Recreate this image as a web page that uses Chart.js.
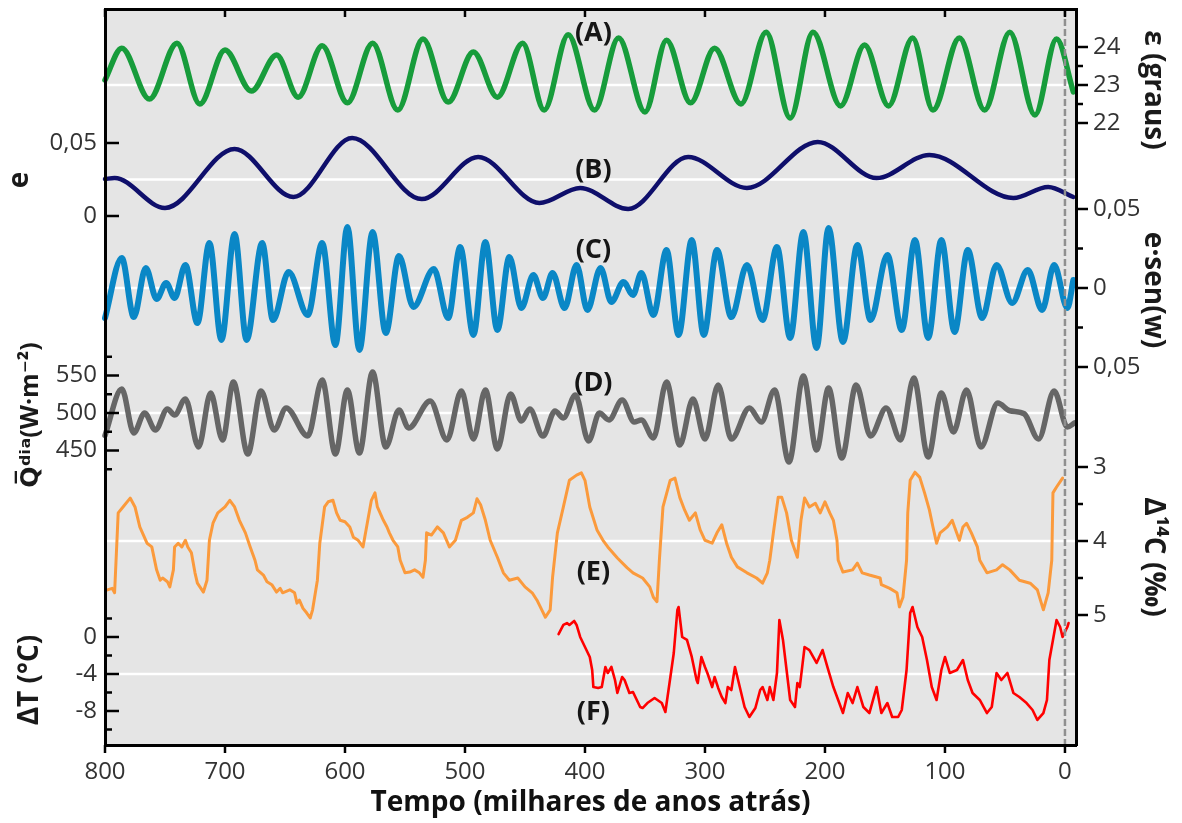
<!DOCTYPE html>
<html>
<head>
<meta charset="utf-8">
<script src="https://cdn.jsdelivr.net/npm/chart.js@4.4.1/dist/chart.umd.min.js"></script>
<style>
html,body{margin:0;padding:0;background:#fff;}
#wrap{width:1182px;height:823px;position:relative;overflow:hidden;}
canvas{display:block;}
</style>
</head>
<body>
<div id="wrap"><canvas id="c" width="1182" height="823"></canvas></div>
<script>
// ---------------- DATA (ages in thousands of years before present) ----------------
// (A) obliquity, degrees
const ageA = [800,786,763,740,721,700,678,657,639,619,598,577,556,535,514,493,473,452,434,414,392,372,350,332,312,292,270,249,229,210,187,167,147,127,110,88,67,46,25,7,-7];
const obliquity = [23.13,23.97,22.63,24.1,22.5,23.92,22.84,23.79,22.68,24.03,22.53,24.1,22.34,24.21,22.55,23.87,22.68,24.1,22.34,24.32,22.34,24.24,22.29,24.18,22.53,23.97,22.5,24.39,22.13,24.39,22.45,24.05,22.45,24.24,22.34,24.24,22.34,24.39,22.21,24.21,22.82];

// (B) eccentricity
const ageB = [800,792,750,692,643,594,536,489,438,404,364,314,265,206,157,113,43,14,-7];
const eccentricity = [0.0253,0.026,0.0055,0.0459,0.013,0.0534,0.0116,0.0404,0.0089,0.0192,0.0048,0.0404,0.0192,0.0507,0.026,0.0418,0.0123,0.0199,0.013];

// (C) precession index e*sin(w)
const ageC = [800,786,776,766,757,749,742,733,723,713,703,692,682,669,660,647,631,619,608,598,588,577,566,555,543,526,514,504,493,483,473,463,453,443,435,427,417,407,398,387,378,368,360,353,343,332,322,311,301,290,278,265,252,240,229,218,207,197,185,173,162,148,136,125,114,103,92,81,69,57,44,31,19,9,-2,-7];
const precession = [-0.019,0.019,-0.0184,0.0127,-0.007,0.0032,-0.0063,0.0146,-0.0222,0.0285,-0.0329,0.0342,-0.0329,0.0285,-0.0203,0.0101,-0.0171,0.0285,-0.0361,0.0386,-0.0392,0.0354,-0.0285,0.0203,-0.012,0.012,-0.019,0.0259,-0.0297,0.0291,-0.0266,0.0196,-0.0127,0.0082,-0.0063,0.0095,-0.0127,0.0146,-0.0139,0.0127,-0.0089,0.0038,-0.0044,0.0095,-0.0171,0.024,-0.0297,0.0304,-0.0297,0.024,-0.0184,0.0146,-0.0203,0.0259,-0.0316,0.0354,-0.038,0.038,-0.0342,0.0272,-0.0203,0.0209,-0.0266,0.0304,-0.0316,0.0304,-0.0278,0.024,-0.019,0.0146,-0.0095,0.0114,-0.0139,0.0146,-0.0127,0.0051];

// (D) daily mean insolation, W/m2
const ageD = [800,786,776,767,758,748,742,733,722,712,702,693,681,670,659,649,631,619,608,598,588,577,566,555,547,529,515,503,493,483,473,462,453,446,435,425,418,408,397,388,380,369,359,353,343,332,321,310,300,289,278,263,253,242,230,218,207,197,186,174,162,149,137,126,114,103,93,82,70,56,46,34,22,9,-2,-8];
const insolation = [470,532,473.3,500,477.3,505.3,497.3,518.7,454.7,526.7,464,541.3,445.3,529.3,477.3,506.7,469.3,544,445.3,530.7,446.7,554.7,454.7,504,480,516,464,529.3,465.3,530.7,452,525.3,489.3,505.3,469.3,502.7,493.3,524,462.7,500,490.7,517.3,488,490.7,466.7,541.3,457.3,518.7,465.3,537.3,465.3,506.7,488,530.7,434.7,549.3,450.7,533.3,440,537.3,469.3,506.7,464,546.7,441.3,526.7,474.7,530.7,454.7,513.3,503,499,465.3,529.3,481.3,486.7];

// (E) stacked benthic record (right axis, permil)
const ageE = [798,794,792,789,785,779,775,771,765,761,
  757,754,752,748,746,743,742,739,736,733,
  731,728,725,723,718,715,713,710,706,700,
  696,692,688,683,679,675,673,668,665,661,
  657,654,652,646,642,640,638,635,632,629,
  627,623,621,617,614,610,607,604,600,596,
  593,589,585,581,578,575,573,568,565,563,
  560,556,554,550,546,542,538,535,533,532,
  528,523,518,513,508,503,498,493,490,487,
  483,479,473,468,463,456,450,444,440,436,
  433,429,427,423,418,413,407,403,400,396,
  390,385,381,373,365,360,352,346,343,340,
  338,335,329,325,321,317,313,308,304,300,
  294,290,286,282,278,273,265,257,252,248,
  246,243,239,236,232,228,223,220,217,213,
  208,204,200,196,193,190,189,185,177,173,
  169,163,154,153,146,140,138,135,132,131,
  129,125,121,117,113,110,107,104,98,94,
  92,88,85,82,78,73,71,65,57,52,
  46,38,29,23,18,14,11,10,7,2];
const delta14C = [4.66,4.64,4.70,3.62,3.54,3.42,3.54,3.81,4.03,4.08,
  4.39,4.53,4.50,4.55,4.62,4.39,4.08,4.03,4.08,3.99,
  4.08,4.16,4.43,4.57,4.69,4.53,3.99,3.76,3.62,3.54,
  3.45,3.54,3.72,3.89,4.08,4.26,4.39,4.46,4.55,4.59,
  4.69,4.64,4.70,4.66,4.70,4.84,4.80,4.91,4.97,5.04,
  4.93,4.53,4.03,3.54,3.47,3.45,3.62,3.72,3.74,3.81,
  3.95,3.99,4.08,3.72,3.45,3.35,3.54,3.72,3.81,3.89,
  3.99,4.08,4.26,4.43,4.42,4.39,4.43,4.49,4.26,3.89,
  3.92,3.81,3.89,4.08,3.99,3.72,3.68,3.62,3.43,3.51,
  3.72,3.99,4.22,4.43,4.53,4.50,4.62,4.70,4.80,4.93,
  5.03,4.93,4.49,3.89,3.54,3.18,3.11,3.08,3.18,3.54,
  3.85,3.99,4.08,4.23,4.36,4.43,4.50,4.62,4.76,4.82,
  4.26,3.54,3.18,3.15,3.41,3.58,3.72,3.62,3.85,3.99,
  4.03,3.89,3.78,4.03,4.22,4.35,4.43,4.50,4.57,4.43,
  4.26,3.89,3.41,3.41,3.62,3.99,4.22,3.72,3.42,3.54,
  3.49,3.62,3.47,3.62,3.72,3.99,4.26,4.42,4.39,4.30,
  4.43,4.46,4.50,4.59,4.64,4.70,4.89,4.76,4.26,3.62,
  3.18,3.07,3.14,3.35,3.58,3.81,4.03,3.89,3.81,3.72,
  3.81,3.99,3.81,3.76,3.89,4.08,4.26,4.43,4.39,4.32,
  4.39,4.53,4.57,4.66,4.93,4.70,4.26,3.35,3.27,3.15];

// (F) Antarctic temperature anomaly, degC
const ageF = [422,418,415,413,409,407,404,400,396,394,
  393,389,386,383,381,378,375,373,369,367,
  363,360,354,352,348,342,336,333,328,326,
  323,322,319,315,311,307,306,303,300,298,
  294,292,289,286,283,281,278,275,271,267,
  263,258,254,252,248,246,243,240,238,235,
  232,229,225,223,221,217,213,207,202,198,
  193,189,185,181,177,173,168,163,157,153,
  148,144,139,136,132,129,127,123,119,115,
  111,107,103,100,96,90,85,81,77,71,
  65,61,57,53,48,43,38,32,27,23,
  18,15,13,10,7,4,2,-2,-3];
const deltaT = [0.32,1.30,1.51,1.30,1.73,1.30,0,-1.08,-2.16,-3.57,
  -5.41,-5.51,-5.41,-3.24,-3.89,-3.24,-4.65,-6.05,-4.32,-4.65,
  -6.05,-5.95,-7.57,-7.68,-7.14,-6.59,-7.14,-8.11,-3.57,-1.73,
  2.92,3.24,0,-0.32,-2.16,-4.65,-4.97,-2.16,-3.24,-3.89,
  -5.41,-4.32,-5.51,-6.49,-7.14,-5.41,-5.73,-3.24,-5.41,-7.57,
  -8.65,-7.68,-5.73,-5.41,-6.81,-5.41,-6.81,-3.89,1.84,-0.32,
  -3.57,-6.81,-7.57,-4.97,-5.41,-1.08,-1.41,-2.81,-1.41,-3.24,
  -5.41,-6.81,-8.22,-6.05,-7.14,-5.41,-7.57,-8.22,-5.41,-8.22,
  -7.14,-8.65,-8.65,-7.89,-3.57,2.59,3.24,1.08,0,-2.49,
  -5.41,-6.81,-3.57,-2.16,-3.89,-3.57,-2.49,-4.65,-6.05,-6.81,
  -8.22,-7.57,-3.89,-4.65,-3.89,-6.05,-6.49,-7.14,-7.89,-8.97,
  -8.22,-6.81,-2.49,-0.32,1.84,1.08,0,1.08,1.51];

// tick values
const ageTicks = [800,700,600,500,400,300,200,100,0];
const ticksA = [22,22.5,23,23.5,24];
const ticksB = [0,0.05];
const ticksC = [-0.05,-0.025,0,0.025,0.05];
const ticksD = [425,450,475,500,525,550,575];
const ticksE = [3,3.5,4,4.5,5];
const ticksF = [2,0,-2,-4,-6,-8,-10];

// panel tags and reference (white) levels
const panelTags = ['(A)','(B)','(C)','(D)','(E)','(F)'];
const tagAxes = ['yA','yB','yC','yD','yE','yF'];
const tagValues = [24.37,0.0315,0.024,540,4.42,-8.1];
const tagAge = 393;
const refValues = [23,0.025,0,500,4,-4];

// ---------------- CHART ----------------
Chart.defaults.font.family = "'Open Sans', 'DejaVu Sans', sans-serif";
Chart.defaults.font.size = 24;
Chart.defaults.color = '#333';

const comma = v => String(v).replace('.', ',');
const setTicks = vals => s => { s.ticks = vals.map(v => ({value: v})); };
const fix = (w, h) => s => {
  if (w != null) s.width = w;
  if (h != null) s.height = h;
  s.paddingTop = 0; s.paddingBottom = 0; s.paddingLeft = 0; s.paddingRight = 0;
};
const titleFont = {size: 28, weight: 'bold'};
const border = {display: true, color: '#000', width: 3, z: 2};

function yAxis(pos, weight, stackWeight, min, max, ticks, cb, title, tpad, extra, tfont) {
  const left = pos === 'left';
  return Object.assign({
    type: 'linear', axis: 'y', position: pos, stack: left ? 'L' : 'R',
    weight, stackWeight, min, max,
    afterBuildTicks: ticks ? setTicks(ticks) : undefined,
    afterFit: fix(left ? 105 : 106, null),
    grid: {display: false, drawTicks: false},
    border,
    ticks: {display: !!ticks, autoSkip: false, padding: left ? 8 : 17, color: '#333',
            font: {size: 24}, callback: cb || (() => '')},
    title: title ? {display: true, text: title, font: tfont || titleFont, color: '#1a1a1a',
                    padding: {top: tpad, bottom: 0}} : {display: false}
  }, extra || {});
}

function series(ages, vals, axis, color, width, smooth) {
  return {
    data: ages.map((a, i) => ({x: a, y: vals[i]})),
    xAxisID: 'x', yAxisID: axis,
    borderColor: color, borderWidth: width,
    pointRadius: 0, fill: false, clip: false,
    tension: smooth ? 0.4 : 0,
    cubicInterpolationMode: smooth ? 'monotone' : 'default',
    borderJoinStyle: 'round', borderCapStyle: 'round'
  };
}

const tickSpec = {
  yB: ['in', 14, 7], yD: ['in', 14, 7], yF: ['in', 14, 7],
  yA: ['out', 12, 7], yC: ['out', 12, 7], yE: ['out', 12, 7],
  x: ['out', 8, 8], xTop: ['in', 8, 8]
};

const deco = {
  id: 'deco',
  beforeDraw(chart) {
    const {ctx, chartArea: a} = chart;
    ctx.save();
    ctx.fillStyle = '#e5e5e5';
    ctx.fillRect(a.left, a.top, a.right - a.left, a.bottom - a.top);
    ctx.restore();
  },
  beforeDatasetsDraw(chart) {
    const {ctx, chartArea: a} = chart;
    ctx.save();
    ctx.strokeStyle = '#ffffff';
    ctx.lineWidth = 2.5;
    tagAxes.forEach((id, i) => {
      const y = chart.scales[id].getPixelForValue(refValues[i]);
      ctx.beginPath(); ctx.moveTo(a.left, y); ctx.lineTo(a.right, y); ctx.stroke();
    });
    ctx.restore();
  },
  afterDatasetsDraw(chart) {
    const {ctx, chartArea: a, scales} = chart;
    ctx.save();
    const x0 = scales.x.getPixelForValue(0);
    ctx.strokeStyle = '#8f8f8f';
    ctx.lineWidth = 2.5;
    ctx.setLineDash([7, 3]);
    ctx.beginPath(); ctx.moveTo(x0, a.top); ctx.lineTo(x0, a.bottom); ctx.stroke();
    ctx.setLineDash([]);
    ctx.fillStyle = '#151515';
    ctx.font = "bold 27px 'Open Sans', 'DejaVu Sans', sans-serif";
    ctx.textAlign = 'center';
    ctx.textBaseline = 'middle';
    const tx = scales.x.getPixelForValue(tagAge);
    panelTags.forEach((t, i) => {
      ctx.fillText(t, tx, scales[tagAxes[i]].getPixelForValue(tagValues[i]));
    });
    ctx.restore();
  },
  afterDraw(chart) {
    const {ctx, chartArea: a, scales} = chart;
    ctx.save();
    ctx.strokeStyle = '#000';
    ctx.lineWidth = 2.5;
    for (const id in tickSpec) {
      const s = scales[id];
      const [dir, maj, mnr] = tickSpec[id];
      s.ticks.forEach(t => {
        const len = (t.label !== '' && t.label != null) ? maj : mnr;
        const p = s.getPixelForValue(t.value);
        ctx.beginPath();
        if (s.position === 'left') { ctx.moveTo(a.left, p); ctx.lineTo(a.left + (dir === 'in' ? len : -len), p); }
        else if (s.position === 'right') { ctx.moveTo(a.right, p); ctx.lineTo(a.right + (dir === 'in' ? -len : len), p); }
        else if (s.position === 'bottom') { ctx.moveTo(p, a.bottom); ctx.lineTo(p, a.bottom + (dir === 'in' ? -len : len)); }
        else { ctx.moveTo(p, a.top); ctx.lineTo(p, a.top + (dir === 'in' ? len : -len)); }
        ctx.stroke();
      });
    }
    ctx.restore();
  }
};

new Chart(document.getElementById('c'), {
  type: 'line',
  data: {
    datasets: [
      series(ageA, obliquity, 'yA', '#179c3b', 5.5, true),
      series(ageB, eccentricity, 'yB', '#0f0f6b', 4.5, true),
      series(ageC, precession, 'yC', '#0a87c6', 6, true),
      series(ageD, insolation, 'yD', '#666666', 5.5, true),
      series(ageE, delta14C, 'yE', '#fb9a3c', 3, false),
      series(ageF, deltaT, 'yF', '#ff0000', 2.6, false)
    ]
  },
  options: {
    responsive: false, animation: false, devicePixelRatio: 1,
    events: [],
    layout: {padding: 0},
    plugins: {legend: {display: false}, tooltip: {enabled: false}},
    scales: {
      x: {
        type: 'linear', axis: 'x', position: 'bottom', reverse: true, min: -9.2, max: 800,
        afterBuildTicks: setTicks(ageTicks), afterFit: fix(null, 78),
        grid: {display: false, drawTicks: false}, border,
        ticks: {autoSkip: false, maxRotation: 0, padding: 13, color: '#333', font: {size: 24},
                callback: v => String(v)},
        title: {display: true, text: 'Tempo (milhares de anos atrás)', font: titleFont,
                color: '#111', padding: {top: 0, bottom: 3}}
      },
      xTop: {
        type: 'linear', axis: 'x', position: 'top', reverse: true, min: -9.2, max: 800,
        afterBuildTicks: setTicks(ageTicks), afterFit: fix(null, 9),
        grid: {display: false, drawTicks: false}, border,
        ticks: {display: false}
      },
      yB: yAxis('left', 4, 342, -0.09247, 0.14178, ticksB, v => v === 0 ? '0' : (v === 0.05 ? '0,05' : ''), 'e', 3),
      yD: yAxis('left', 3, 128, 412, 582.67, ticksD, v => (v % 50 === 0 ? String(v) : ''), 'Q\u0305\u1D48\u2071\u1D43(W\u00B7m\u207B\u00B2)', 16, null, {size: 25, weight: 'bold'}),
      ySpL: yAxis('left', 2, 136, 0, 1, null, null, null, 0),
      yF: yAxis('left', 1, 130, -11.676, 2.378, ticksF, v => (v % 4 === 0 ? String(v === 0 ? 0 : v) : ''), '\u0394T (\u00B0C)', 13),
      yA: yAxis('right', 1, 162, 20.737, 25.0, ticksA, v => (Number.isInteger(v) ? String(v) : ''), '\u03B5 (graus)', 12),
      yC: yAxis('right', 2, 238, -0.07658, 0.07405, ticksC, v => v === 0 ? '0' : (Math.abs(v) === 0.05 ? comma(Math.abs(v)) : ''), 'e\u00B7sen(w)', 12),
      yE: yAxis('right', 3, 296, 2.2162, 6.2162, ticksE, v => (Number.isInteger(v) ? String(v) : ''), '\u0394\u00B9\u2074C (\u2030)', 12, {reverse: true}),
      ySpR: yAxis('right', 4, 40, 0, 1, null, null, null, 0)
    }
  },
  plugins: [deco]
});
</script>
</body>
</html>
